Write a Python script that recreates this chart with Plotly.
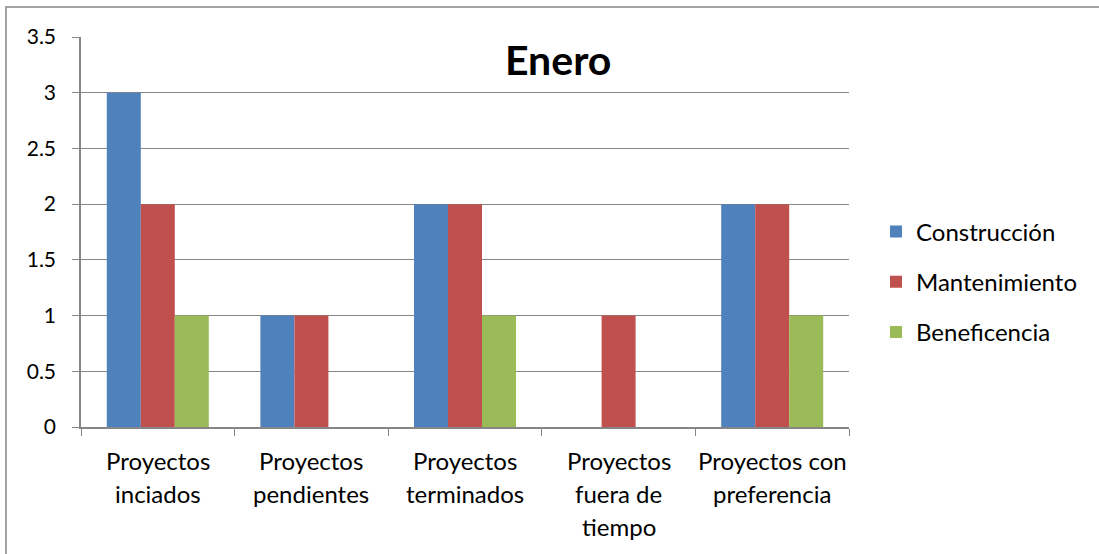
import plotly.graph_objects as go

# Monthly project counts by area
categories = ["Proyectos inciados", "Proyectos pendientes", "Proyectos terminados",
              "Proyectos fuera de tiempo", "Proyectos con preferencia"]
label_lines = [["Proyectos", "inciados"], ["Proyectos", "pendientes"],
               ["Proyectos", "terminados"], ["Proyectos", "fuera de", "tiempo"],
               ["Proyectos con", "preferencia"]]
construccion = [3, 1, 2, 0, 2]
mantenimiento = [2, 1, 2, 1, 2]
beneficencia = [1, 0, 1, 0, 1]
series = [("Construcción", construccion, "#4F81BD"),
          ("Mantenimiento", mantenimiento, "#C0504D"),
          ("Beneficencia", beneficencia, "#9BBB59")]
y_ticks = [0, 0.5, 1, 1.5, 2, 2.5, 3, 3.5]

FONT = "Lato"
W, H = 1099, 554
L, R, T, B = 81, 250, 37, 127
pw, ph = W - L - R, H - T - B

fig = go.Figure()
for i, (name, vals, color) in enumerate(series):
    fig.add_trace(go.Bar(
        x=categories, y=vals, name=name, marker_color=color,
        marker_line_width=0, legendgroup=str(i),
    ))

# Category labels, one annotation per line
annotations = []
for cat, lines in zip(categories, label_lines):
    for j, line in enumerate(lines):
        annotations.append(dict(
            x=cat, xref="x", y=0, yref="paper", yanchor="middle",
            yshift=-(33 + 33 * j), text=line, showarrow=False,
            font=dict(family=FONT, size=24, color="#000000"),
        ))

# Chart title inside the plot area
annotations.append(dict(
    x=(558 - L) / pw, xref="paper", y=(427 - 59) / ph, yref="paper",
    text="<b>Enero</b>", showarrow=False, xanchor="center", yanchor="middle",
    font=dict(family=FONT, size=41, color="#000000"),
))

fig.update_layout(
    width=W, height=H,
    margin=dict(l=L, r=R, t=T, b=B, pad=0),
    paper_bgcolor="white", plot_bgcolor="white",
    barmode="group", bargap=0.336, bargroupgap=0,
    font=dict(family=FONT, size=24, color="#000000"),
    showlegend=True,
    legend=dict(
        x=(876 - L) / pw, xanchor="left", y=(427 - 282) / ph, yanchor="middle",
        font=dict(family=FONT, size=24, color="#000000"),
        tracegroupgap=16, itemwidth=30, bgcolor="rgba(0,0,0,0)",
    ),
    annotations=annotations,
    shapes=[dict(
        type="rect", xref="paper", yref="paper",
        x0=(6 - L) / pw, x1=(W + 5 - L) / pw,
        y0=(427 - (H + 5)) / ph, y1=(427 - 7) / ph,
        line=dict(color="#868686", width=1.5), fillcolor="rgba(0,0,0,0)",
        layer="below",
    )],
)
fig.update_xaxes(
    showticklabels=False, tickson="boundaries", ticks="outside", ticklen=7,
    tickcolor="#868686", showline=True, linecolor="#868686", linewidth=1.5,
    showgrid=False, zeroline=False,
)
fig.update_yaxes(
    range=[0, 3.5], tickvals=y_ticks, ticks="outside", ticklen=7,
    tickcolor="#868686", showline=True, linecolor="#868686", linewidth=1.5,
    showgrid=True, gridcolor="#868686", gridwidth=1, zeroline=False,
    ticklabelstandoff=12,
    tickfont=dict(family=FONT, size=21, color="#000000"),
)

fig.write_html("out.html")
